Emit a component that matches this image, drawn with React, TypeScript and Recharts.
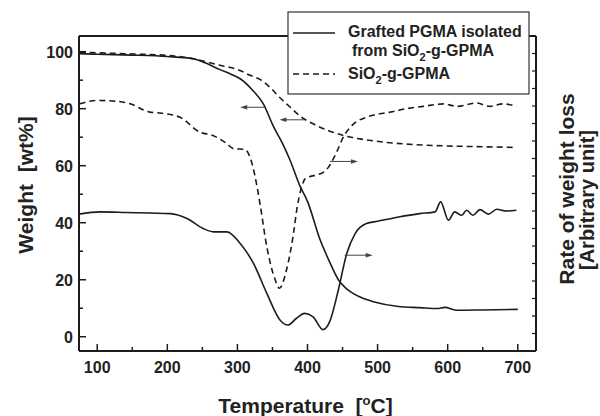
import React from "react";
import { LineChart, Line, XAxis, YAxis, ReferenceLine } from "recharts";

const seriesNames = ["Grafted PGMA isolated", "from SiO", "-g-GPMA", "SiO", "-g-GPMA"];

// TGA, grafted PGMA (solid)
const tgaPgmaTemp = [74, 100, 150, 200, 237, 255, 275, 290, 304, 322, 337, 351, 365, 375, 389, 400, 418, 432, 444, 455, 465, 480, 494, 530, 560, 585, 596, 612, 650, 700];
const tgaPgmaWeight = [99.3, 99.1, 98.8, 98.3, 97.5, 96, 93.7, 92.2, 90.5, 86.4, 81.7, 74, 67.5, 62, 53, 47.5, 34, 26, 20, 17, 15.2, 13.4, 12.3, 10.6, 10.2, 9.9, 10.3, 9.3, 9.4, 9.6];

// TGA, SiO2-g-GPMA (dashed)
const tgaSiTemp = [75, 100, 150, 200, 237, 270, 304, 318, 332, 346, 360, 375, 390, 408, 430, 451, 475, 508, 540, 579, 620, 660, 698];
const tgaSiWeight = [99.8, 99.6, 99.2, 98.7, 97.5, 95.5, 93.4, 91.7, 90.3, 87.6, 84, 80.6, 77.3, 74.7, 72.3, 70.6, 69.4, 68.3, 67.6, 67.1, 66.8, 66.6, 66.4];

// DTG, grafted PGMA (solid)
const dtgPgmaTemp = [74, 104, 142, 204, 228, 251, 266, 285, 304, 323, 342, 361, 372, 384, 396, 408, 422, 432, 444, 456, 468, 484, 500, 530, 560, 582, 590, 601, 610, 620, 627, 636, 646, 658, 670, 684, 698];
const dtgPgmaRate = [43, 43.8, 43.6, 43.2, 41.5, 38, 36.8, 36.8, 32.7, 25.7, 15.2, 5.8, 4.1, 6.4, 8.2, 7, 2.5, 5.5, 16.4, 29.2, 36.2, 39.7, 40.5, 42, 43.2, 43.8, 47.3, 40.9, 43.8, 42.6, 44.4, 42.6, 44.6, 43, 44.7, 44.1, 44.4];

// DTG, SiO2-g-GPMA (dashed)
const dtgSiTemp = [75, 99, 128, 147, 175, 189, 218, 246, 265, 285, 294, 311, 318, 327, 332, 342, 354, 360, 370, 380, 385, 391, 397, 413, 422, 430, 437, 442, 451, 465, 484, 503, 518, 541, 565, 594, 613, 641, 660, 679, 698];
const dtgSiRate = [81.7, 82.9, 82.6, 81.7, 78.8, 78.5, 77, 71.8, 70.6, 67.7, 66, 65.7, 63, 54, 47, 31.5, 19.9, 17, 23.4, 36.2, 45, 52, 55.5, 56.8, 57.6, 59.5, 62.5, 65, 70, 74.5, 77, 78.2, 78.8, 80, 80.8, 81.7, 80.8, 82, 80.8, 81.7, 80.8];

const xTicks = [100, 150, 200, 250, 300, 350, 400, 450, 500, 550, 600, 650, 700];
const yTicks = [0, 10, 20, 30, 40, 50, 60, 70, 80, 90, 100];
const rightTicks = [1, 2, 3, 4, 5, 6, 7, 8, 9, 10, 11, 12, 13, 14, 15, 16, 17];

// annotation arrows (tail -> head), in data units
const arrows = [
  { x1: 339, y1: 80.5, x2: 304, y2: 80.5 },
  { x1: 396, y1: 76.1, x2: 360, y2: 76.1 },
  { x1: 432, y1: 61.5, x2: 472, y2: 61.5 },
  { x1: 453, y1: 28.6, x2: 493, y2: 28.6 },
];

const ink = "#1c1c1c";
const font = "'Liberation Sans', Arial, sans-serif";

const pts = (t: number[], v: number[]) => t.map((x, i) => ({ t: x, v: v[i] }));

const BottomTick = (props: any) => {
  const { x, y, payload } = props;
  const major = payload.value % 100 === 0;
  return (
    <g>
      <line x1={x} y1={y} x2={x} y2={y - (major ? 7 : 4)} stroke={ink} strokeWidth={1.5} />
      {major && (
        <text x={x} y={y + 22} textAnchor="middle" fontSize={16} fontWeight="bold" fill="#222" fontFamily={font}>
          {payload.value}
        </text>
      )}
    </g>
  );
};

const TopTick = (props: any) => {
  const { x, y, payload } = props;
  const major = payload.value % 100 === 0;
  return <line x1={x} y1={y} x2={x} y2={y + (major ? 7 : 4)} stroke={ink} strokeWidth={1.5} />;
};

const LeftTick = (props: any) => {
  const { x, y, payload } = props;
  const major = payload.value % 20 === 0;
  return (
    <g>
      <line x1={x} y1={y} x2={x + (major ? 7 : 4)} y2={y} stroke={ink} strokeWidth={1.5} />
      {major && (
        <text x={x - 6} y={y + 6} textAnchor="end" fontSize={16} fontWeight="bold" fill="#222" fontFamily={font}>
          {payload.value}
        </text>
      )}
    </g>
  );
};

const RightTick = (props: any) => {
  const { x, y } = props;
  return <line x1={x} y1={y} x2={x - 4} y2={y} stroke={ink} strokeWidth={1.2} />;
};

const ArrowShape = (props: any) => {
  const { x1, y1, x2, y2 } = props;
  const dir = x2 > x1 ? 1 : -1;
  return (
    <g>
      <line x1={x1} y1={y1} x2={x2 - dir * 5} y2={y2} stroke="#444" strokeWidth={1} />
      <polygon points={`${x2},${y2} ${x2 - dir * 7},${y2 - 2.2} ${x2 - dir * 7},${y2 + 2.2}`} fill="#444" />
    </g>
  );
};

const XTitle = (props: any) => {
  const { viewBox } = props;
  const cx = viewBox.x + viewBox.width / 2 - 2;
  return (
    <text x={cx} y={viewBox.y + 62} textAnchor="middle" fontSize={21} fontWeight="bold" fill="#222" fontFamily={font}>
      {"Temperature\u00a0\u00a0["}
      <tspan dy={-8} fontSize={13}>o</tspan>
      <tspan dy={8}>C]</tspan>
    </text>
  );
};

const YTitle = () => (
  <text x={33} y={185} transform="rotate(-90 33 185)" textAnchor="middle" fontSize={21} fontWeight="bold" fill="#222" fontFamily={font}>
    {"Weight\u00a0\u00a0[wt%]"}
  </text>
);

const RightTitle = () => (
  <g fontWeight="bold" fill="#222" fontFamily={font}>
    <text x={574} y={189} transform="rotate(-90 574 189)" textAnchor="middle" fontSize={21}>Rate of weight loss</text>
    <text x={594} y={200} transform="rotate(-90 594 200)" textAnchor="middle" fontSize={20}>[Arbitrary unit]</text>
  </g>
);

const LegendBox = () => (
  <svg
    width={243}
    height={84}
    style={{ position: "absolute", left: 287, top: 11, zIndex: 2 }}
    fontFamily={font}
    fontWeight="bold"
    fontSize={16}
    fill="#222"
  >
    <rect x={1} y={1} width={241} height={82} fill="#fff" stroke="#333" strokeWidth={1.2} />
    <line x1={6} y1={22} x2={48} y2={22} stroke={ink} strokeWidth={1.5} />
    <text x={61} y={26}>{seriesNames[0]}</text>
    <text x={65} y={45}>
      {seriesNames[1]}
      <tspan dy={5} fontSize={11}>2</tspan>
      <tspan dy={-5}>{seriesNames[2]}</tspan>
    </text>
    <line x1={6} y1={63} x2={48} y2={63} stroke={ink} strokeWidth={1.5} strokeDasharray="6 4" />
    <text x={61} y={68}>
      {seriesNames[3]}
      <tspan dy={5} fontSize={11}>2</tspan>
      <tspan dy={-5}>{seriesNames[4]}</tspan>
    </text>
  </svg>
);

const App = () => {
  return (
    <div style={{ position: "absolute", left: 0, top: 0, width: 600, height: 416, background: "#fff" }}>
      <LineChart width={600} height={416} margin={{ top: 0, right: 0, bottom: 0, left: 0 }}>
        <XAxis
          xAxisId="bottom"
          dataKey="t"
          type="number"
          domain={[74, 726]}
          ticks={xTicks}
          interval={0}
          allowDataOverflow
          height={65}
          tickSize={0}
          tickMargin={0}
          tickLine={false}
          axisLine={{ stroke: ink, strokeWidth: 2 }}
          tick={<BottomTick />}
          label={<XTitle />}
        />
        <XAxis
          xAxisId="top"
          orientation="top"
          type="number"
          domain={[74, 726]}
          ticks={xTicks}
          interval={0}
          allowDataOverflow
          height={36}
          tickSize={0}
          tickMargin={0}
          tickLine={false}
          axisLine={{ stroke: ink, strokeWidth: 2 }}
          tick={<TopTick />}
        />
        <YAxis
          yAxisId="left"
          type="number"
          domain={[-5, 105.5]}
          ticks={yTicks}
          interval={0}
          allowDataOverflow
          width={79}
          tickSize={0}
          tickMargin={0}
          tickLine={false}
          axisLine={{ stroke: ink, strokeWidth: 2 }}
          tick={<LeftTick />}
          label={<YTitle />}
        />
        <YAxis
          yAxisId="right"
          orientation="right"
          type="number"
          domain={[0, 18]}
          ticks={rightTicks}
          interval={0}
          allowDataOverflow
          width={64}
          tickSize={0}
          tickMargin={0}
          tickLine={false}
          axisLine={{ stroke: ink, strokeWidth: 2 }}
          tick={<RightTick />}
          label={<RightTitle />}
        />
        <Line xAxisId="bottom" yAxisId="left" data={pts(tgaPgmaTemp, tgaPgmaWeight)} dataKey="v" type="monotone" stroke={ink} strokeWidth={1.6} dot={false} isAnimationActive={false} />
        <Line xAxisId="bottom" yAxisId="left" data={pts(tgaSiTemp, tgaSiWeight)} dataKey="v" type="monotone" stroke={ink} strokeWidth={1.6} strokeDasharray="6 4" dot={false} isAnimationActive={false} />
        <Line xAxisId="bottom" yAxisId="left" data={pts(dtgPgmaTemp, dtgPgmaRate)} dataKey="v" type="monotone" stroke={ink} strokeWidth={1.6} dot={false} isAnimationActive={false} />
        <Line xAxisId="bottom" yAxisId="left" data={pts(dtgSiTemp, dtgSiRate)} dataKey="v" type="monotone" stroke={ink} strokeWidth={1.6} strokeDasharray="6 4" dot={false} isAnimationActive={false} />
        {arrows.map((a, i) => (
          <ReferenceLine
            key={i}
            xAxisId="bottom"
            yAxisId="left"
            segment={[{ x: a.x1, y: a.y1 }, { x: a.x2, y: a.y2 }]}
            shape={<ArrowShape />}
          />
        ))}
      </LineChart>
      <LegendBox />
    </div>
  );
};

export default App;
